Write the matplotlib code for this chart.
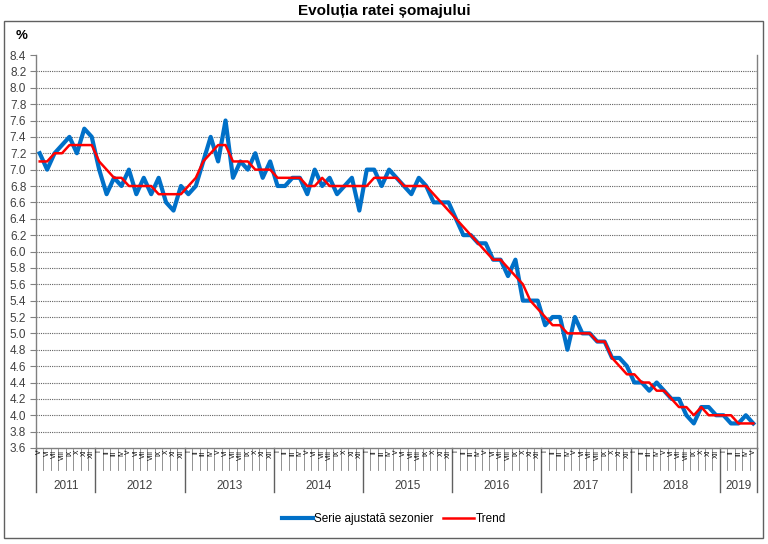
import matplotlib
matplotlib.use("Agg")
import matplotlib.pyplot as plt
from matplotlib.patches import Rectangle

plt.rcParams['font.family'] = ['Liberation Sans', 'DejaVu Sans']

# months May 2011 .. May 2019
years = ['2011', '2012', '2013', '2014', '2015', '2016', '2017', '2018', '2019']
months_in_year = [8, 12, 12, 12, 12, 12, 12, 12, 5]
month_labels = ['I', 'II', 'III', 'IV', 'V', 'VI', 'VII', 'VIII', 'IX', 'X', 'XI', 'XII']
first_month = 4  # May

seasonal = [7.2, 7.0, 7.2, 7.3, 7.4, 7.2, 7.5, 7.4,
            7.0, 6.7, 6.9, 6.8, 7.0, 6.7, 6.9, 6.7, 6.9, 6.6, 6.5, 6.8,
            6.7, 6.8, 7.1, 7.4, 7.1, 7.6, 6.9, 7.1, 7.0, 7.2, 6.9, 7.1,
            6.8, 6.8, 6.9, 6.9, 6.7, 7.0, 6.8, 6.9, 6.7, 6.8, 6.9, 6.5,
            7.0, 7.0, 6.8, 7.0, 6.9, 6.8, 6.7, 6.9, 6.8, 6.6, 6.6, 6.6,
            6.4, 6.2, 6.2, 6.1, 6.1, 5.9, 5.9, 5.7, 5.9, 5.4, 5.4, 5.4,
            5.1, 5.2, 5.2, 4.8, 5.2, 5.0, 5.0, 4.9, 4.9, 4.7, 4.7, 4.6,
            4.4, 4.4, 4.3, 4.4, 4.3, 4.2, 4.2, 4.0, 3.9, 4.1, 4.1, 4.0,
            4.0, 3.9, 3.9, 4.0, 3.9]

trend = [7.1, 7.1, 7.2, 7.2, 7.3, 7.3, 7.3, 7.3,
         7.1, 7.0, 6.9, 6.9, 6.8, 6.8, 6.8, 6.8, 6.7, 6.7, 6.7, 6.7,
         6.8, 6.9, 7.1, 7.2, 7.3, 7.3, 7.1, 7.1, 7.1, 7.0, 7.0, 7.0,
         6.9, 6.9, 6.9, 6.9, 6.8, 6.8, 6.9, 6.8, 6.8, 6.8, 6.8, 6.8,
         6.8, 6.9, 6.9, 6.9, 6.9, 6.8, 6.8, 6.8, 6.8, 6.7, 6.6, 6.5,
         6.4, 6.3, 6.2, 6.1, 6.0, 5.9, 5.9, 5.8, 5.7, 5.6, 5.4, 5.3,
         5.2, 5.1, 5.1, 5.0, 5.0, 5.0, 5.0, 4.9, 4.9, 4.7, 4.6, 4.5,
         4.5, 4.4, 4.4, 4.3, 4.3, 4.2, 4.1, 4.1, 4.0, 4.1, 4.0, 4.0,
         4.0, 4.0, 3.9, 3.9, 3.9]

yticks = [3.6, 3.8, 4.0, 4.2, 4.4, 4.6, 4.8, 5.0, 5.2, 5.4, 5.6, 5.8, 6.0,
          6.2, 6.4, 6.6, 6.8, 7.0, 7.2, 7.4, 7.6, 7.8, 8.0, 8.2, 8.4]

n = len(seasonal)
x = list(range(n))
gray = '#404040'

fig = plt.figure(figsize=(7.68, 5.44), dpi=100)
W, H = 768, 544
ax = fig.add_axes([36 / W, 1 - 448 / H, (757 - 36) / W, (448 - 55) / H])

# outer frame
fig.patches.append(Rectangle((4 / W, 1 - 538 / H), 759 / W, 517 / H, transform=fig.transFigure,
                             fill=False, edgecolor='#606060', linewidth=1))

fig.text(384 / W, 1 - 11 / H, 'Evoluția ratei șomajului', ha='center', va='center',
         fontsize=11, fontweight='bold', color='black')
fig.text(22 / W, 1 - 36 / H, '%', ha='center', va='center', fontsize=9.5, fontweight='bold')

for v in yticks[1:-1]:
    ax.axhline(v, color='#606060', linewidth=0.8, linestyle=(0, (1, 1)), zorder=1)

l1, = ax.plot(x, seasonal, color='#0070C8', linewidth=3.0, solid_joinstyle='round', zorder=3,
              label='Serie ajustată sezonier')
l2, = ax.plot(x, trend, color='#FF0000', linewidth=1.8, zorder=4, label='Trend')

ax.set_xlim(-0.5, n - 0.5)
ax.set_ylim(3.6, 8.4)
ax.set_yticks(yticks)
ax.set_yticklabels([f'{v:.1f}' for v in yticks], fontsize=8.5, color=gray)
ax.tick_params(axis='y', length=4, color='#808080', pad=3)
ax.set_xticks([])
ax.spines['top'].set_visible(False)
for s in ['left', 'bottom', 'right']:
    ax.spines[s].set_color('#808080')
    ax.spines[s].set_linewidth(1.0)

# category axis: months and years
tr = ax.get_xaxis_transform()
ph = 448 - 55
for k in range(n + 1):
    ax.plot([k - 0.5, k - 0.5], [0, -22 / ph], transform=tr, clip_on=False,
            color='#808080', linewidth=0.6)
for i in range(n):
    m = (first_month + i) % 12
    ax.text(i, -2 / ph, month_labels[m], transform=tr, rotation=90, ha='center', va='top',
            fontsize=4.8, color='black')

start = 0
for yr, cnt in zip(years, months_in_year):
    ax.plot([start - 0.5, start - 0.5], [0, -44 / ph], transform=tr, clip_on=False,
            color='#606060', linewidth=1.0)
    ax.text(start - 0.5 + cnt / 2, -38 / ph, yr, transform=tr, ha='center', va='center',
            fontsize=8.5, color=gray)
    start += cnt
ax.plot([n - 0.5, n - 0.5], [0, -44 / ph], transform=tr, clip_on=False,
        color='#606060', linewidth=1.0)

fig.legend(handles=[l1, l2], loc='center', bbox_to_anchor=(394 / W, 1 - 519 / H), ncol=2,
           frameon=False, fontsize=8.5, handlelength=2.6, handletextpad=0.15, columnspacing=0.8)

fig.savefig('out.png', dpi=100)
